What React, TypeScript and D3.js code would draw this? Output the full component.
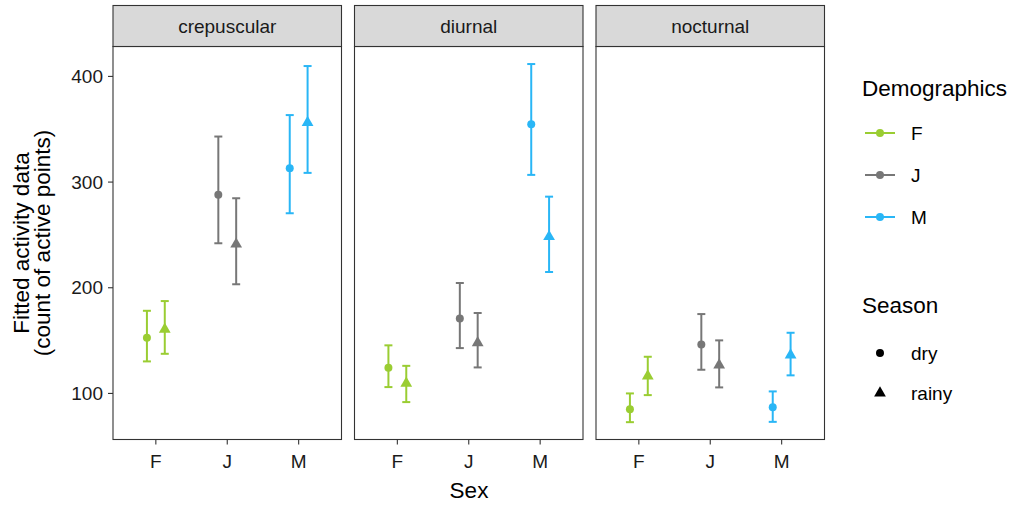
import React from "react";
import * as d3 from "d3";

const facets = ["crepuscular", "diurnal", "nocturnal"];
const sexes = ["F", "J", "M"];
const seasons = ["dry", "rainy"];
const yTicks = [100, 200, 300, 400];

// fitted values per facet, [sex][season]
const fitCrepuscular = [[152.7, 160.6], [288.1, 241.2], [313.2, 356.4]];
const lowCrepuscular = [[130.3, 137.5], [242.1, 203.3], [270.5, 308.7]];
const highCrepuscular = [[178.2, 187.4], [343.1, 284.7], [363.4, 409.8]];

const fitDiurnal = [[124.3, 109.5], [171.0, 147.9], [354.8, 248.3]];
const lowDiurnal = [[106.0, 91.8], [142.9, 124.6], [306.8, 214.9]];
const highDiurnal = [[145.5, 126.1], [204.5, 176.1], [411.7, 286.2]];

const fitNocturnal = [[85.1, 116.4], [146.4, 126.8], [87.0, 136.3]];
const lowNocturnal = [[72.8, 98.4], [122.4, 105.7], [73.1, 117.1]];
const highNocturnal = [[100.0, 134.7], [175.1, 150.2], [101.9, 157.4]];

const fits = [fitCrepuscular, fitDiurnal, fitNocturnal];
const lows = [lowCrepuscular, lowDiurnal, lowNocturnal];
const highs = [highCrepuscular, highDiurnal, highNocturnal];

const colors = ["#9ACD32", "#777777", "#29B6F6"];

const FONT = "'Liberation Sans', Arial, sans-serif";

export default function App() {
  const W = 1026, H = 508;
  const panelLefts = [113, 354.5, 596];
  const panelW = 228.5;
  const stripTop = 5.5, stripBottom = 46.5, panelBottom = 439.5;

  const y = d3.scaleLinear().domain([56.4, 428.3]).range([panelBottom, stripBottom]);
  const tri = d3.symbol().type(d3.symbolTriangle).size(60)();
  const circ = d3.symbol().type(d3.symbolCircle).size(50)();

  return (
    <svg width={W} height={H} style={{ position: "absolute", left: 0, top: 0 }} fontFamily={FONT}>
      <rect width={W} height={H} fill="#fff" />
      {facets.map((f, fi) => {
        const x0 = panelLefts[fi];
        const xp = d3.scalePoint().domain(sexes).range([x0 + panelW * 0.6 / 3.2, x0 + panelW * 2.6 / 3.2]);
        const dodge = (panelW / 3.2) * 0.125;
        return (
          <g key={f}>
            <rect x={x0} y={stripBottom} width={panelW} height={panelBottom - stripBottom} fill="#fff" />
            {sexes.map((s, si) =>
              seasons.map((se, ki) => {
                const cx = (xp(s) as number) + (ki === 0 ? -dodge : dodge);
                const c = colors[si];
                const yv = y(fits[fi][si][ki]);
                const yl = y(lows[fi][si][ki]);
                const yh = y(highs[fi][si][ki]);
                return (
                  <g key={s + se}>
                    <line x1={cx} x2={cx} y1={yl} y2={yh} stroke={c} strokeWidth={2} />
                    <line x1={cx - 4} x2={cx + 4} y1={yl} y2={yl} stroke={c} strokeWidth={2} />
                    <line x1={cx - 4} x2={cx + 4} y1={yh} y2={yh} stroke={c} strokeWidth={2} />
                    <path d={ki === 0 ? circ! : tri!} transform={`translate(${cx},${yv})`} fill={c} />
                  </g>
                );
              })
            )}
            <rect x={x0} y={stripBottom} width={panelW} height={panelBottom - stripBottom} fill="none" stroke="#333" strokeWidth={1.1} />
            <rect x={x0} y={stripTop} width={panelW} height={stripBottom - stripTop} fill="#D9D9D9" stroke="#333" strokeWidth={1.1} />
            <text x={x0 + panelW / 2} y={(stripTop + stripBottom) / 2 + 6.5} textAnchor="middle" fontSize={19} fill="#1a1a1a">{f}</text>
            {sexes.map((s) => (
              <g key={s}>
                <line x1={xp(s)} x2={xp(s)} y1={panelBottom} y2={panelBottom + 5} stroke="#333" strokeWidth={1.1} />
                <text x={xp(s)} y={panelBottom + 28} textAnchor="middle" fontSize={19} fill="#1a1a1a">{s}</text>
              </g>
            ))}
          </g>
        );
      })}
      {yTicks.map((t) => (
        <g key={t}>
          <line x1={108} x2={113} y1={y(t)} y2={y(t)} stroke="#333" strokeWidth={1.1} />
          <text x={103} y={y(t) + 6.5} textAnchor="end" fontSize={19} fill="#1a1a1a">{t}</text>
        </g>
      ))}
      <text x={469} y={498} textAnchor="middle" fontSize={22.5} fill="#000">Sex</text>
      <g transform="translate(0,243) rotate(-90)">
        <text x={0} y={29} textAnchor="middle" fontSize={22.5} fill="#000">Fitted activity data</text>
        <text x={0} y={49.5} textAnchor="middle" fontSize={22.5} fill="#000">(count of active points)</text>
      </g>
      {/* Legend */}
      <text x={862} y={96} fontSize={22.5} fill="#000">Demographics</text>
      {sexes.map((s, i) => {
        const ly = 133 + i * 42;
        return (
          <g key={s}>
            <line x1={865} x2={895} y1={ly} y2={ly} stroke={colors[i]} strokeWidth={2} />
            <path d={circ!} transform={`translate(880,${ly})`} fill={colors[i]} />
            <text x={911} y={ly + 6.5} fontSize={19} fill="#000">{s}</text>
          </g>
        );
      })}
      <text x={862} y={313} fontSize={22.5} fill="#000">Season</text>
      {seasons.map((se, i) => {
        const ly = 353 + i * 40;
        return (
          <g key={se}>
            <path d={i === 0 ? circ! : tri!} transform={`translate(880,${ly})`} fill="#000" />
            <text x={911} y={ly + 6.5} fontSize={19} fill="#000">{se}</text>
          </g>
        );
      })}
    </svg>
  );
}
